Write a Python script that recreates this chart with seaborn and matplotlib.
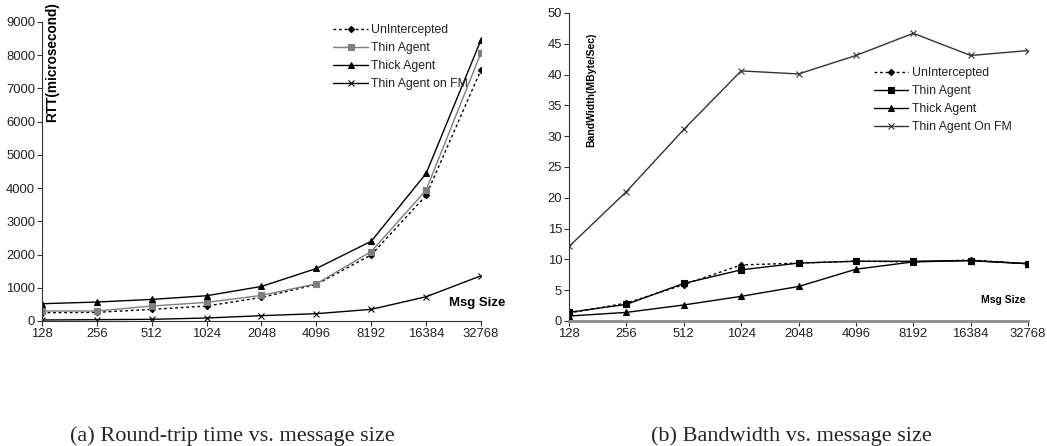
import matplotlib
matplotlib.use("Agg")
import matplotlib.pyplot as plt
import seaborn as sns
import pandas as pd
import numpy as np

msg_sizes = ["128", "256", "512", "1024", "2048", "4096", "8192", "16384", "32768"]

# RTT (microsecond)
rtt_unintercepted = [250, 260, 350, 450, 710, 1100, 1990, 3780, 7560]
rtt_thin = [300, 300, 450, 560, 770, 1120, 2090, 3940, 8070]
rtt_thick = [520, 570, 650, 760, 1040, 1580, 2400, 4440, 8460]
rtt_thin_fm = [30, 40, 50, 90, 160, 220, 350, 730, 1360]

# Bandwidth (MByte/Sec)
bw_unintercepted = [1.3, 2.9, 5.9, 9.1, 9.4, 9.7, 9.6, 9.9, 9.3]
bw_thin = [1.4, 2.7, 6.1, 8.3, 9.4, 9.7, 9.7, 9.8, 9.3]
bw_thick = [0.8, 1.4, 2.6, 4.0, 5.6, 8.4, 9.6, 9.8, 9.3]
bw_thin_fm = [12.1, 21.0, 31.1, 40.6, 40.1, 43.1, 46.7, 43.1, 43.9]

sns.set_theme(style="ticks")
plt.rcParams['font.family'] = ['Liberation Sans', 'DejaVu Sans']

fig = plt.figure(figsize=(10.47, 4.46), dpi=100)
ax1 = fig.add_axes([0.0401, 0.2803, 0.4193, 0.6704])
ax2 = fig.add_axes([0.5435, 0.2803, 0.4384, 0.6906])

pos = list(range(len(msg_sizes)))

def draw(ax, series, styles):
    for (label, vals), st in zip(series, styles):
        df = pd.DataFrame({"pos": pos, "val": vals})
        sns.lineplot(data=df, x="pos", y="val", ax=ax, label=label,
                     color=st["color"], linestyle=st["ls"], marker=st["marker"],
                     markersize=st["ms"], markeredgecolor=st["color"],
                     markerfacecolor=st["color"], linewidth=1.0,
                     markeredgewidth=st.get("mew", 0.8))

left_series = [("UnIntercepted", rtt_unintercepted), ("Thin Agent", rtt_thin),
               ("Thick Agent", rtt_thick), ("Thin Agent on FM", rtt_thin_fm)]
left_styles = [dict(color="black", ls=(0, (2, 2)), marker="D", ms=3.2),
               dict(color="#7f7f7f", ls="-", marker="s", ms=4.5),
               dict(color="black", ls="-", marker="^", ms=4.8),
               dict(color="black", ls="-", marker="x", ms=4.5)]
draw(ax1, left_series, left_styles)

right_series = [("UnIntercepted", bw_unintercepted), ("Thin Agent", bw_thin),
                ("Thick Agent", bw_thick), ("Thin Agent On FM", bw_thin_fm)]
right_styles = [dict(color="black", ls=(0, (2, 2)), marker="D", ms=3.2),
                dict(color="black", ls="-", marker="s", ms=4.5),
                dict(color="black", ls="-", marker="^", ms=4.8),
                dict(color="#333333", ls="-", marker="x", ms=5)]
draw(ax2, right_series, right_styles)

for ax in (ax1, ax2):
    ax.set_xlim(0, len(msg_sizes) - 1)
    ax.set_xticks(pos)
    ax.set_xticklabels(msg_sizes)
    ax.set_xlabel("")
    ax.set_ylabel("")
    ax.spines["top"].set_visible(False)
    ax.spines["right"].set_visible(False)
    ax.tick_params(axis="both", labelsize=9.4, length=3.5, width=0.8,
                   colors="#333333", labelcolor="#222222", pad=1.5)
    ax.spines["left"].set_color("#333333")
    ax.spines["left"].set_linewidth(0.8)

ax1.set_ylim(0, 9000)
ax1.set_yticks(np.arange(0, 9001, 1000))
ax1.spines["bottom"].set_color("#333333")
ax1.spines["bottom"].set_linewidth(0.8)

ax2.set_ylim(0, 50)
ax2.set_yticks(np.arange(0, 51, 5))
ax2.spines["bottom"].set_color("#8c8c8c")
ax2.spines["bottom"].set_linewidth(2.0)

ax1.text(10 / 439, 1 + 20 / 299, "RTT(microsecond)", transform=ax1.transAxes, rotation=90,
         ha="center", va="top", fontsize=9.8, fontweight="bold", color="black")
ax1.text(1.055, 0.06, "Msg Size", transform=ax1.transAxes, ha="right", va="center",
         fontsize=9.5, fontweight="bold", color="black")

ax2.text(0.048, 0.75, "BandWidth(MByte/Sec)", transform=ax2.transAxes, rotation=90,
         ha="center", va="center", fontsize=7.5, fontweight="bold", color="black")
ax2.text(0.995, 0.068, "Msg Size", transform=ax2.transAxes, ha="right", va="center",
         fontsize=7.5, fontweight="bold", color="black")

leg1 = ax1.legend(loc="upper left", bbox_to_anchor=(0.644, 1.022), frameon=False,
                  fontsize=8.8, handlelength=2.85, handletextpad=0.25, labelspacing=0.5,
                  borderpad=0.2)
leg2 = ax2.legend(loc="upper left", bbox_to_anchor=(0.645, 0.853), frameon=False,
                  fontsize=8.8, handlelength=2.85, handletextpad=0.25, labelspacing=0.5,
                  borderpad=0.2)
for leg in (leg1, leg2):
    for t in leg.get_texts():
        t.set_color("#222222")

fig.text(232 / 1047, 1 - 436 / 446, "(a) Round-trip time vs. message size",
         ha="center", va="center", fontsize=16, family=["Liberation Serif", "DejaVu Serif"])
fig.text(791 / 1047, 1 - 436 / 446, "(b) Bandwidth vs. message size",
         ha="center", va="center", fontsize=16, family=["Liberation Serif", "DejaVu Serif"])

fig.savefig("out.png", dpi=100, facecolor="white")
